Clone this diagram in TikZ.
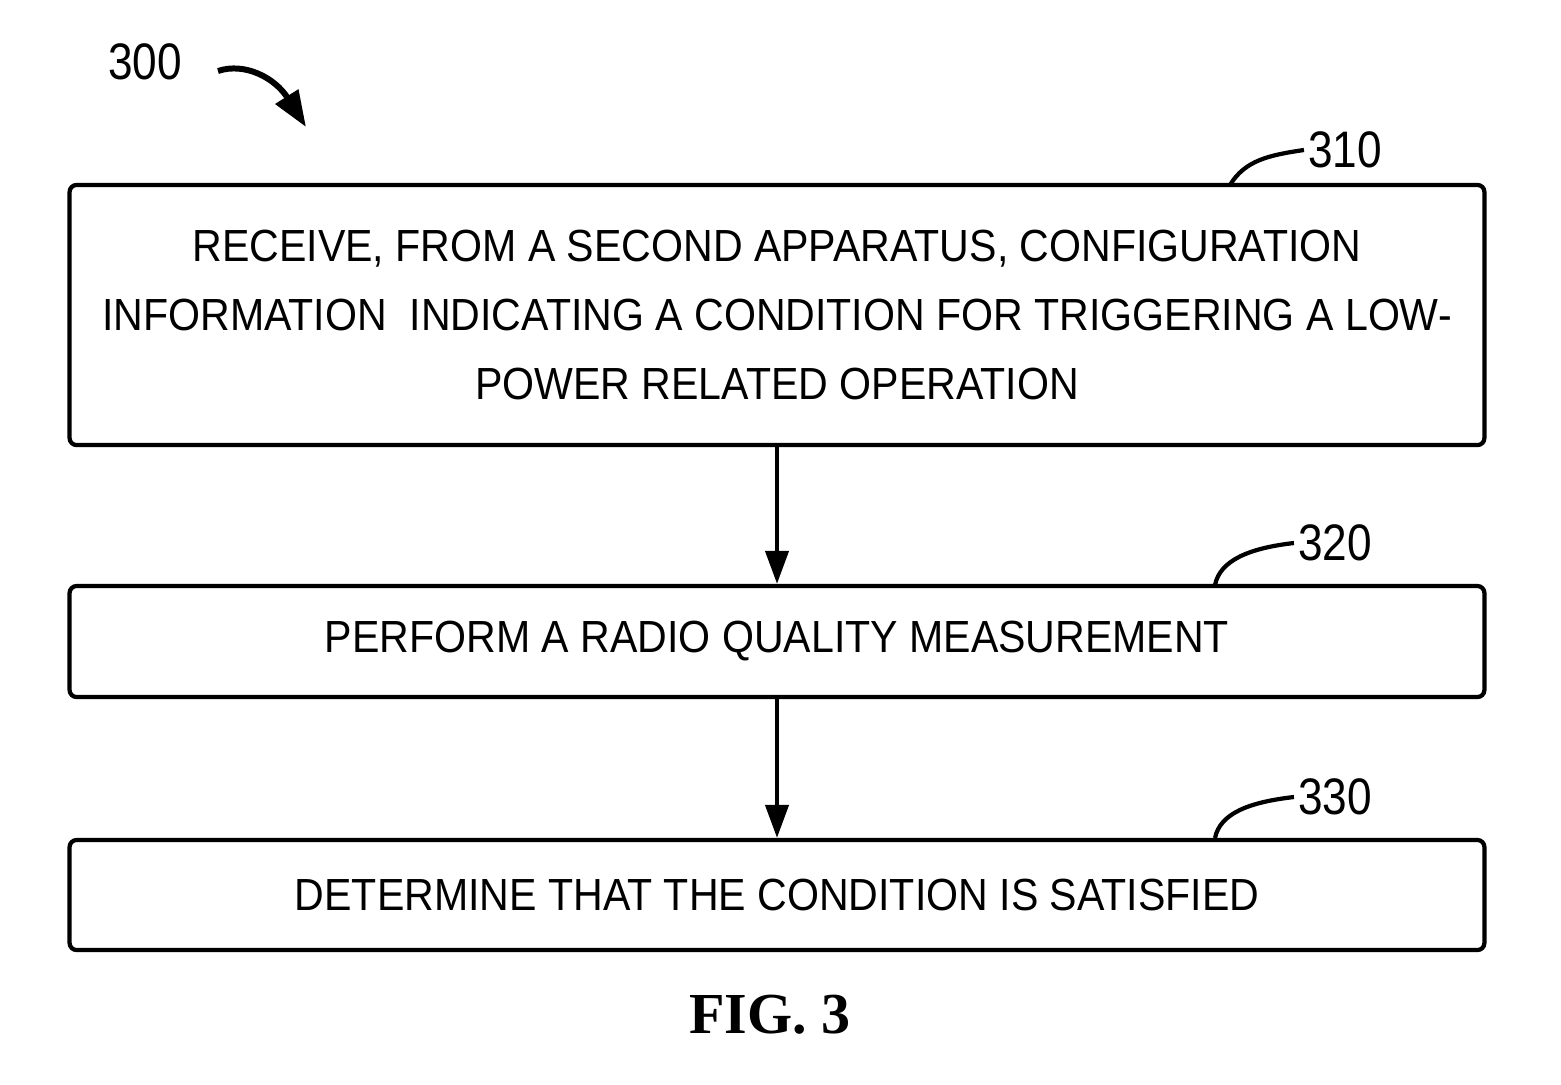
\documentclass[tikz,border=0pt]{standalone}
\usepackage{fontspec}
\setmainfont{Liberation Serif}
\newfontfamily\boxfont{Liberation Sans}[FakeStretch=0.913]
\newfontfamily\reffont{Liberation Sans}[FakeStretch=0.86]
\usepackage{tikz}
\usetikzlibrary{arrows.meta, positioning, calc}

\begin{document}
\begin{tikzpicture}[
    x=0.01cm, y=-0.01cm,
    stepbox/.style={draw, line width=1.2pt, rounded corners=2pt, minimum width=14.14cm, align=center, inner sep=0pt, font=\boxfont\fontsize{12.8}{19.6}\selectfont},
    ref/.style={font=\reffont\fontsize{14.6}{16}\selectfont, inner sep=1pt},
    arr/.style={-{Triangle[length=0.33cm, width=0.23cm]}, line width=1.2pt},
    lead/.style={line width=1.2pt}
]
\useasboundingbox (0,0) rectangle (1561,1084);

\node[stepbox, minimum height=2.6cm] (s310) at (777,315) {RECEIVE, FROM A SECOND APPARATUS, CONFIGURATION\\INFORMATION\ \ INDICATING A CONDITION FOR TRIGGERING A LOW-\\POWER RELATED OPERATION};
\node[stepbox, minimum height=1.11cm] (s320) at (777,641.5) {PERFORM A RADIO QUALITY MEASUREMENT};
\node[stepbox, minimum height=1.10cm] (s330) at (777,895) {DETERMINE THAT THE CONDITION IS SATISFIED};

\node[ref] (n300) at (145,62) {300};
\node[ref] (n310) at (1345,150) {310};
\node[ref] (n320) at (1335,543) {320};
\node[ref] (n330) at (1335,797) {330};

\node[font=\bfseries\fontsize{16.5}{18}\selectfont] (fig) at (770,1015) {FIG. 3};

% leaders
\coordinate (c310) at (1230,185);
\coordinate (c320) at (1215,585);
\coordinate (c330) at (1215,838);
\coordinate (c300) at (306,127);
\draw[lead] (c310) .. controls (1245,160) and (1270,155) .. (n310.west);
\draw[lead] (c320) .. controls (1220,560) and (1250,548) .. (n320.west);
\draw[lead] (c330) .. controls (1220,813) and (1250,802) .. (n330.west);
\draw[-{Triangle[length=0.36cm, width=0.26cm]}, line width=1.7pt] (218,71) .. controls (245,62) and (275,78) .. (c300);

% flow
\draw[arr] (s310) -- (s320);
\draw[arr] (s320) -- (s330);
\end{tikzpicture}
\end{document}
